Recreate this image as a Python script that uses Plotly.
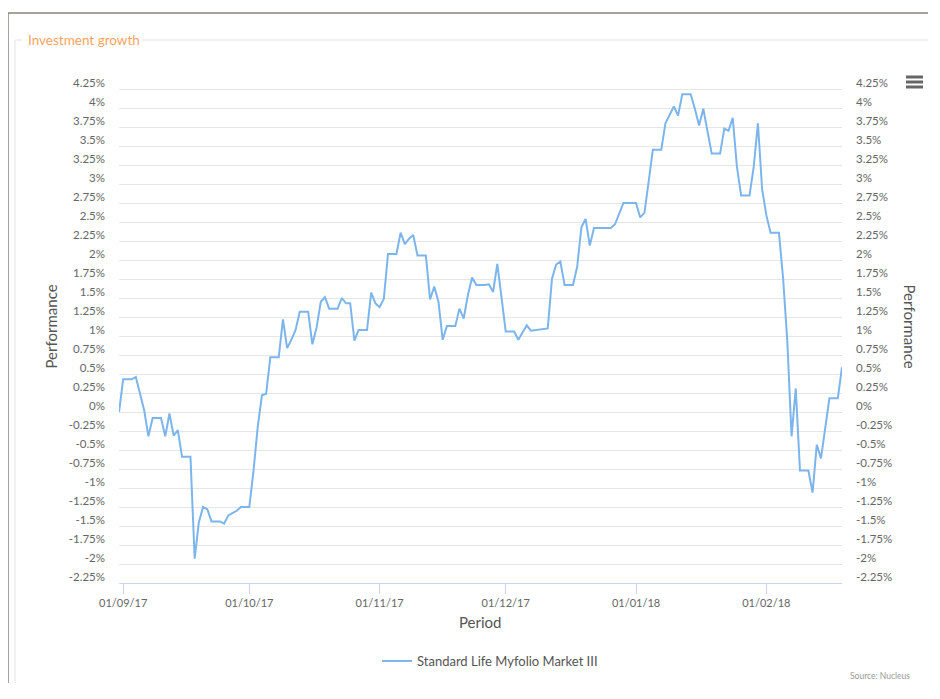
import plotly.graph_objects as go
import pandas as pd

# ---------------- data ----------------
start_date = "2017-08-31"
performance = [
    0.00, 0.43, 0.43, 0.43, 0.46, 0.24, 0.02, -0.32, -0.08, -0.08,
    -0.08, -0.32, -0.02, -0.31, -0.24, -0.59, -0.59, -0.59, -1.93, -1.45,
    -1.25, -1.28, -1.44, -1.44, -1.44, -1.47, -1.36, -1.33, -1.30, -1.25,
    -1.25, -1.25, -0.77, -0.20, 0.22, 0.24, 0.72, 0.72, 0.72, 1.22,
    0.84, 0.95, 1.08, 1.32, 1.32, 1.32, 0.89, 1.11, 1.45, 1.51,
    1.36, 1.36, 1.36, 1.50, 1.43, 1.43, 0.94, 1.08, 1.08, 1.08,
    1.57, 1.43, 1.38, 1.49, 2.08, 2.08, 2.08, 2.36, 2.21, 2.28,
    2.33, 2.06, 2.06, 2.06, 1.48, 1.65, 1.45, 0.95, 1.13, 1.13,
    1.13, 1.36, 1.23, 1.54, 1.77, 1.67, 1.67, 1.67, 1.68, 1.58,
    1.95, 1.50, 1.06, 1.06, 1.06, 0.95, 1.05, 1.14, 1.07, 1.08,
    1.08, 1.09, 1.10, 1.75, 1.94, 1.98, 1.67, 1.67, 1.67, 1.91,
    2.43, 2.54, 2.19, 2.42, 2.42, 2.42, 2.42, 2.42, 2.47, 2.62,
    2.75, 2.75, 2.75, 2.75, 2.56, 2.62, 3.03, 3.45, 3.45, 3.45,
    3.80, 3.90, 4.02, 3.90, 4.18, 4.18, 4.18, 3.99, 3.77, 3.99,
    3.70, 3.40, 3.40, 3.40, 3.73, 3.70, 3.87, 3.23, 2.85, 2.85,
    2.85, 3.23, 3.80, 2.93, 2.59, 2.36, 2.36, 2.36, 1.75, 0.92,
    -0.32, 0.31, -0.77, -0.77, -0.77, -1.06, -0.43, -0.61, -0.20, 0.18,
    0.18, 0.18, 0.59,
]
series_name = "Standard Life Myfolio Market III"
x_tick_dates = ["2017-09-01", "2017-10-01", "2017-11-01", "2017-12-01", "2018-01-01", "2018-02-01"]
x_tick_labels = ["01/09/17", "01/10/17", "01/11/17", "01/12/17", "01/01/18", "01/02/18"]
y_tick_values = [-2.25, -2.0, -1.75, -1.5, -1.25, -1.0, -0.75, -0.5, -0.25, 0.0,
                 0.25, 0.5, 0.75, 1.0, 1.25, 1.5, 1.75, 2.0, 2.25, 2.5,
                 2.75, 3.0, 3.25, 3.5, 3.75, 4.0, 4.25, 4.5]
y_tick_labels = ["-2.25%", "-2%", "-1.75%", "-1.5%", "-1.25%", "-1%", "-0.75%", "-0.5%", "-0.25%", "0%",
                 "0.25%", "0.5%", "0.75%", "1%", "1.25%", "1.5%", "1.75%", "2%", "2.25%", "2.5%",
                 "2.75%", "3%", "3.25%", "3.5%", "3.75%", "4%", "4.25%", ""]

dates = pd.date_range(start_date, periods=len(performance), freq="D")

# ---------------- layout geometry ----------------
OFF = 8                    # page body margin
W, H = 920, 675            # leave slack so the page never scrolls
PLOT_L, PLOT_R, PLOT_T, PLOT_B = 119, 842, 70, 583   # plot area on the page
ML, MT = PLOT_L - OFF, PLOT_T - OFF
MR, MB = W - (PLOT_R - OFF), H - (PLOT_B - OFF)
PW, PH = PLOT_R - PLOT_L, PLOT_B - PLOT_T
RIGHT_EDGE = OFF + W
BOTTOM_EDGE = OFF + H


def px(x):
    return (x - PLOT_L) / PW


def py(y):
    return (PLOT_B - y) / PH


FONT = "Lato, 'Open Sans', sans-serif"
TXT = "#666666"
LINE = "#7cb5ec"

fig = go.Figure()
fig.add_trace(go.Scatter(x=dates, y=performance, mode="lines", name=series_name,
                         line=dict(color=LINE, width=2)))
fig.add_trace(go.Scatter(x=dates, y=performance, mode="lines", yaxis="y2",
                         line=dict(color="rgba(0,0,0,0)", width=0), showlegend=False,
                         hoverinfo="skip"))

yax = dict(range=[-2.25, 4.5], tickmode="array", tickvals=y_tick_values, ticktext=y_tick_labels,
           showline=False, zeroline=False, ticks="", ticklabelshift=-6, ticklabelstandoff=13,
           tickfont=dict(family=FONT, size=11.5, color=TXT), fixedrange=True)

fig.update_layout(
    width=W, height=H,
    margin=dict(l=ML, r=MR, t=MT, b=MB, pad=0, autoexpand=False),
    paper_bgcolor="white", plot_bgcolor="white",
    font=dict(family=FONT, color=TXT),
    xaxis=dict(type="date", range=[dates[0], dates[-1]], tickmode="array",
               tickvals=x_tick_dates, ticktext=x_tick_labels, showgrid=False,
               showline=True, linecolor="#ccd6eb", linewidth=1, ticks="outside",
               ticklen=10, tickcolor="#ccd6eb", tickwidth=1, zeroline=False,
               tickfont=dict(family=FONT, size=11, color=TXT)),
    yaxis=dict(**yax, showgrid=True, gridcolor="#e6e6e6", gridwidth=1),
    yaxis2=dict(**yax, overlaying="y", side="right", showgrid=False),
    showlegend=True,
    legend=dict(orientation="h", x=px(490), xanchor="center", y=py(661), yanchor="middle",
                font=dict(family=FONT, size=13, color="#555555"), bgcolor="rgba(0,0,0,0)"),
)

annotations = [
    dict(text="Performance", x=px(50), y=0.5, textangle=-90, font=dict(size=15, color="#555555")),
    dict(text="Performance", x=px(910), y=0.5, textangle=90, font=dict(size=15, color="#555555")),
    dict(text="Period", x=0.5, y=py(622), font=dict(size=15, color="#555555")),
    dict(text="Source: Nucleus", x=px(912), y=py(676), xanchor="right", font=dict(size=8.5, color="#999999")),
    dict(text="Investment growth", x=px(26), y=py(40), xanchor="left", font=dict(size=13.5, color="#f9a462")),
]
for a in annotations:
    a.setdefault("xanchor", "center")
    fig.add_annotation(xref="paper", yref="paper", showarrow=False, yanchor="middle",
                       font_family=FONT, **a)

shapes = [
    # outer frame
    dict(x0=px(8), x1=px(RIGHT_EDGE), y0=py(13), y1=py(13), line=dict(color="#8a837d", width=1.5)),
    dict(x0=px(8), x1=px(8), y0=py(13), y1=py(BOTTOM_EDGE), line=dict(color="#8a837d", width=1.5)),
    # fieldset frame
    dict(x0=px(15), x1=px(22), y0=py(40), y1=py(40), line=dict(color="#e3e3e3", width=1)),
    dict(x0=px(142), x1=px(RIGHT_EDGE), y0=py(40), y1=py(40), line=dict(color="#e3e3e3", width=1)),
    dict(x0=px(15), x1=px(15), y0=py(40), y1=py(BOTTOM_EDGE), line=dict(color="#e3e3e3", width=1)),
    # menu icon
    dict(x0=px(906), x1=px(923), y0=py(77), y1=py(77), line=dict(color="#666666", width=3)),
    dict(x0=px(906), x1=px(923), y0=py(82), y1=py(82), line=dict(color="#666666", width=3)),
    dict(x0=px(906), x1=px(923), y0=py(87), y1=py(87), line=dict(color="#666666", width=3)),
]
for s in shapes:
    fig.add_shape(type="line", xref="paper", yref="paper", **s)

fig.write_html("out.html")
